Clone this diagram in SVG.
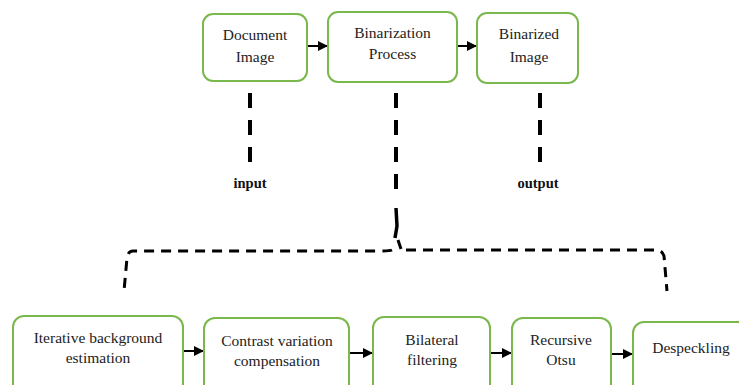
<svg xmlns="http://www.w3.org/2000/svg" width="739" height="385" viewBox="0 0 739 385">
<style>
.box{fill:#fff;stroke:#7ab84c;stroke-width:2}
.t{font-family:"Liberation Serif","Times New Roman",serif;font-size:15.5px;fill:#222;text-anchor:middle}
.b{font-family:"Liberation Serif","Times New Roman",serif;font-size:14.5px;font-weight:bold;fill:#111;text-anchor:middle}
.arr{stroke:#000;stroke-width:2;fill:none;marker-end:url(#ah)}
.dv{stroke:#000;stroke-width:4;fill:none;stroke-dasharray:15 12}
.dh{stroke:#000;stroke-width:3;fill:none;stroke-dasharray:10 7}
</style>
<defs>
<marker id="ah" viewBox="0 0 10 10" refX="10" refY="5" markerWidth="5" markerHeight="5" orient="auto" markerUnits="strokeWidth">
<path d="M0,0 L10,5 L0,10 Z" fill="#000"/>
</marker>
</defs>
<rect width="739" height="385" fill="#fff"/>
<g id="connectors">
<line class="arr" x1="307" y1="46" x2="328" y2="46"/>
<line class="arr" x1="457" y1="46" x2="477" y2="46"/>
<line class="arr" x1="183" y1="351" x2="204" y2="351"/>
<line class="arr" x1="349" y1="353" x2="373" y2="353"/>
<line class="arr" x1="490" y1="353" x2="512" y2="353"/>
<line class="arr" x1="611" y1="354" x2="633" y2="354"/>
<line class="dv" x1="250" y1="93" x2="250" y2="166"/>
<line class="dv" x1="540" y1="93" x2="540" y2="166"/>
<path class="dv" d="M396,93 V196"/>
<path stroke="#000" stroke-width="3.5" fill="none" d="M396,208 L397,226 L395,238"/>
<path stroke="#000" stroke-width="3" fill="none" d="M398,240 L401,249"/>
<path class="dh" d="M392,250 Q390,251 380,251 H133 Q128,251 127,258 L124,291" stroke-dasharray="0 3 10 7 10 7 10 7 10 7 10 7 10 7 10 7 10 7 10 7 10 7 10 7 10 7 10 7 10 7 10 7 10 7 10 7 10 7 10 7 10 7 10 7 10 7 10 7 10 7 10 7 10 7 10 7"/>
<path class="dh" d="M406,250 H657 Q662,250 664,256 L667,291"/>
</g>
<g id="n1">
<rect class="box" x="203" y="14" width="104" height="67" rx="10"/>
<text class="t" x="255" y="40">Document</text>
<text class="t" x="255" y="62">Image</text>
</g>
<g id="n2">
<rect class="box" x="328" y="12" width="129" height="70" rx="10"/>
<text class="t" x="392.5" y="38">Binarization</text>
<text class="t" x="392.5" y="59">Process</text>
</g>
<g id="n3">
<rect class="box" x="477" y="13" width="101" height="70" rx="10"/>
<text class="t" x="529" y="39">Binarized</text>
<text class="t" x="529" y="62">Image</text>
</g>
<g id="l-input"><text class="b" x="250" y="188">input</text></g>
<g id="l-output"><text class="b" x="538" y="188">output</text></g>
<g id="n4">
<rect class="box" x="13" y="316" width="170" height="85" rx="11"/>
<text class="t" x="98" y="343">Iterative background</text>
<text class="t" x="98" y="363">estimation</text>
</g>
<g id="n5">
<rect class="box" x="204" y="318" width="145" height="85" rx="11"/>
<text class="t" x="277" y="346">Contrast variation</text>
<text class="t" x="277" y="366">compensation</text>
</g>
<g id="n6">
<rect class="box" x="373" y="317" width="117" height="85" rx="11"/>
<text class="t" x="432" y="345">Bilateral</text>
<text class="t" x="432" y="365">filtering</text>
</g>
<g id="n7">
<rect class="box" x="512" y="318" width="99" height="85" rx="11"/>
<text class="t" x="561" y="345">Recursive</text>
<text class="t" x="561" y="365">Otsu</text>
</g>
<g id="n8">
<rect class="box" x="633" y="322" width="120" height="85" rx="11"/>
<text class="t" x="691" y="353">Despeckling</text>
</g>
</svg>
